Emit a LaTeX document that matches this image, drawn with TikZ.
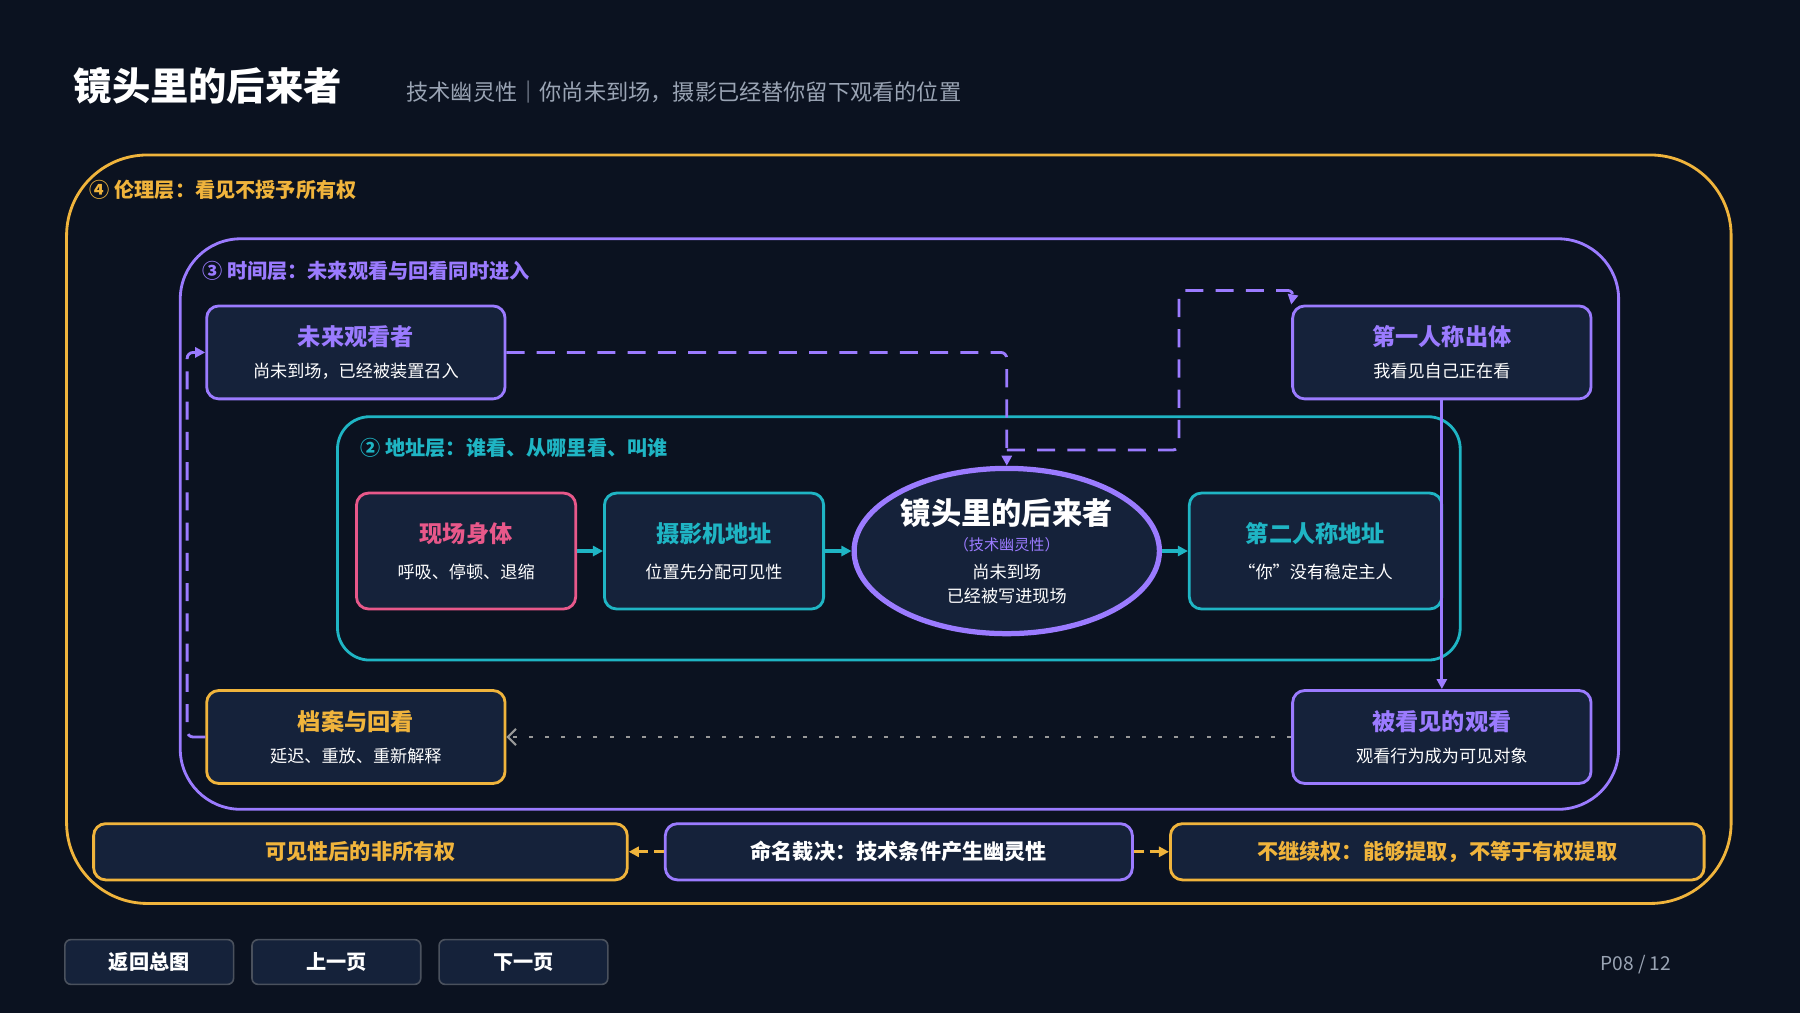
\documentclass[tikz,border=0pt]{standalone}
\usepackage{fontspec}
\setmainfont{Noto Sans CJK SC}
\usetikzlibrary{arrows.meta,shapes.geometric}
\definecolor{bg}{HTML}{0B1220}
\definecolor{boxfill}{HTML}{15223A}
\definecolor{orng}{HTML}{F0B43C}
\definecolor{purp}{HTML}{9B7BFF}
\definecolor{cyn}{HTML}{1FB5C4}
\definecolor{pnk}{HTML}{E8588A}
\definecolor{txtgray}{HTML}{9AA4B4}
\tikzset{
  box/.style={draw=#1,line width=1.4pt,fill=boxfill,rounded corners=6pt,align=center,minimum width=5.2cm,minimum height=1.62cm,inner sep=0pt},
  inbox/.style={box=#1,minimum width=3.82cm,minimum height=2.02cm},
  bar/.style={box=#1,minimum width=9.3cm,minimum height=0.98cm},
  btn/.style={draw=gray!50!boxfill,line width=0.8pt,fill=boxfill,rounded corners=3pt,minimum width=2.94cm,minimum height=0.78cm,text=white,font=\fontsize{10}{12}\selectfont\bfseries},
  lay/.style={anchor=west,font=\fontsize{10}{12}\selectfont\bfseries},
  flowdash/.style={purp,line width=1.4pt,dash pattern=on 9pt off 6pt,-{Triangle[length=5pt,width=5pt]}},
}
\newcommand{\btitle}[2]{{\fontsize{11.5}{14}\selectfont\bfseries\color{#1}#2}}
\newcommand{\bsub}[1]{{\fontsize{8.5}{10}\selectfont\color{white}#1}}
\begin{document}
\begin{tikzpicture}[x=0.02cm,y=-0.02cm]
\fill[bg] (0,0) rectangle (1568,882);
\useasboundingbox (0,0) rectangle (1568,882);

% title
\node[anchor=west,text=white,font=\fontsize{19}{22}\selectfont\bfseries] (title) at (58,75) {镜头里的后来者};
\node[anchor=west,text=txtgray,font=\fontsize{11}{13}\selectfont] (subtitle) at (348,80) {技术幽灵性｜你尚未到场，摄影已经替你留下观看的位置};

% layers
\draw[orng,line width=1.4pt,rounded corners=40pt] (58,135) rectangle (1508,787);
\node[lay,text=orng] (l4) at (72,165) {④ 伦理层：看见不授予所有权};
\draw[purp,line width=1.4pt,rounded corners=30pt] (157,208) rectangle (1410,705);
\node[lay,text=purp] (l3) at (170,236) {③ 时间层：未来观看与回看同时进入};
\draw[cyn,line width=1.4pt,rounded corners=16pt] (294,363) rectangle (1272,575);
\node[lay,text=cyn] (l2) at (308,390) {② 地址层：谁看、从哪里看、叫谁};

% time boxes
\node[box=purp] (future) at (310,307) {\btitle{purp}{未来观看者}\\[4pt]\bsub{尚未到场，已经被装置召入}};
\node[box=purp] (first) at (1256,307) {\btitle{purp}{第一人称出体}\\[4pt]\bsub{我看见自己正在看}};
\node[box=orng] (archive) at (310,642) {\btitle{orng}{档案与回看}\\[4pt]\bsub{延迟、重放、重新解释}};
\node[box=purp] (seen) at (1256,642) {\btitle{purp}{被看见的观看}\\[4pt]\bsub{观看行为成为可见对象}};

% address boxes
\node[inbox=pnk] (body) at (406,480) {\btitle{pnk}{现场身体}\\[6pt]\bsub{呼吸、停顿、退缩}};
\node[inbox=cyn] (camera) at (622,480) {\btitle{cyn}{摄影机地址}\\[6pt]\bsub{位置先分配可见性}};
\node[draw=purp,line width=2.6pt,fill=boxfill,ellipse,minimum width=5.32cm,minimum height=2.88cm,align=center,inner sep=0pt] (core) at (877,480)
  {{\fontsize{15}{18}\selectfont\bfseries\color{white}镜头里的后来者}\\[1pt]{\fontsize{7.5}{9}\selectfont\color{purp}（技术幽灵性）}\\[2pt]\bsub{尚未到场}\\\bsub{已经被写进现场}};
\node[inbox=cyn,minimum width=4.4cm] (second) at (1146,480) {\btitle{cyn}{第二人称地址}\\[6pt]\bsub{“你”没有稳定主人}};

% bottom bar
\node[bar=orng] (nonown) at (314,742) {\fontsize{10.5}{12}\selectfont\bfseries\color{orng}可见性后的非所有权};
\node[bar=purp,minimum width=8.14cm] (verdict) at (783,742) {\fontsize{10.5}{12}\selectfont\bfseries\color{white}命名裁决：技术条件产生幽灵性};
\node[bar=orng] (noinherit) at (1252,742) {\fontsize{10.5}{12}\selectfont\bfseries\color{orng}不继续权：能够提取，不等于有权提取};

% buttons
\node[btn] (back) at (130,838) {返回总图};
\node[btn] (prev) at (293,838) {上一页};
\node[btn] (next) at (456,838) {下一页};
\node[text=txtgray,font=\fontsize{9.5}{11}\selectfont] (page) at (1425,840) {P08 / 12};

% connectors
\draw[flowdash,rounded corners=3pt] (future.east) -- (877,307) -- (core.north);
\coordinate (loopstart) at (877,392);
\draw[flowdash,rounded corners=3pt] (loopstart) -- (1027,392) -- (1027,253) -- (1127,253) -- (first.north west);
\draw[purp,line width=1.4pt,-{Triangle[length=5pt,width=5pt]}] (first.south) -- (seen.north);
\draw[gray!80,line width=1pt,dash pattern=on 2pt off 6pt,-{Straight Barb[length=4pt]}] (seen.west) -- (archive.east);
\draw[flowdash,rounded corners=3pt] (archive.west) -- (163,642) -- (163,307) -- (future.west);
\draw[cyn,line width=1.6pt,-{Triangle[length=5pt,width=5pt]}] (body.east) -- (camera.west);
\draw[cyn,line width=1.6pt,-{Triangle[length=5pt,width=5pt]}] (camera.east) -- (core.west);
\draw[cyn,line width=1.6pt,-{Triangle[length=5pt,width=5pt]}] (core.east) -- (second.west);
\draw[orng,line width=1.4pt,dash pattern=on 5pt off 3pt,-{Triangle[length=5pt,width=5pt]}] (verdict.west) -- (nonown.east);
\draw[orng,line width=1.4pt,dash pattern=on 5pt off 3pt,-{Triangle[length=5pt,width=5pt]}] (verdict.east) -- (noinherit.west);
\end{tikzpicture}
\end{document}
